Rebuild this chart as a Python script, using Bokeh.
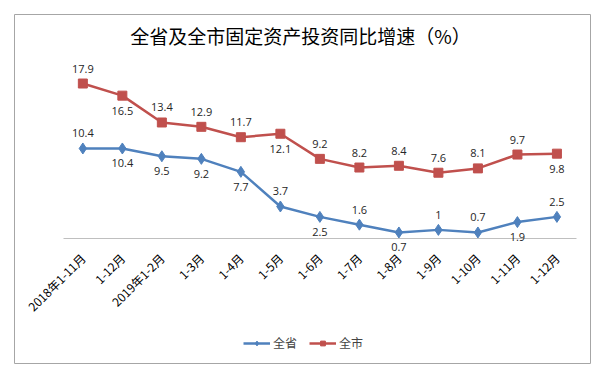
import math
from bokeh.plotting import figure
from bokeh.models import (ColumnDataSource, Range1d, LabelSet, Label, Legend, LegendItem,
                          FixedTicker)
from bokeh.core.properties import value
from bokeh.embed import file_html
from bokeh.resources import INLINE

# ---- data ----
categories = ["2018年1-11月", "1-12月", "2019年1-2月", "1-3月", "1-4月", "1-5月", "1-6月",
              "1-7月", "1-8月", "1-9月", "1-10月", "1-11月", "1-12月"]
province = [10.4, 10.4, 9.5, 9.2, 7.7, 3.7, 2.5, 1.6, 0.7, 1, 0.7, 1.9, 2.5]
city = [17.9, 16.5, 13.4, 12.9, 11.7, 12.1, 9.2, 8.2, 8.4, 7.6, 8.1, 9.7, 9.8]
province_label_pos = ["up", "down", "down", "down", "down", "up", "down", "up", "down", "up", "up", "down", "up"]
city_label_pos = ["up", "down", "up", "up", "up", "down", "up", "up", "up", "up", "up", "up", "down"]
title_text = "全省及全市固定资产投资同比增速（%）"
series_names = ["全省", "全市"]

BLUE = "#4F81BD"
RED = "#C0504D"
OFF = {"up": 15, "down": -15}


def fmt(v):
    return ("%g" % v)


idx = list(range(len(categories)))

# the plot frame is the whole bordered chart area; the axis sits at y = 0 inside it
p = figure(x_range=Range1d(-1.73, 12.85), y_range=Range1d(-14.43, 25.87),
           width=596, height=366, output_backend="svg", toolbar_location=None,
           min_border_left=14, min_border_right=6, min_border_top=14, min_border_bottom=3)
p.outline_line_color = "#a6a6a6"
p.outline_line_width = 1
p.background_fill_color = "white"
p.border_fill_color = "white"
p.xgrid.visible = False
p.ygrid.visible = False
p.yaxis.visible = False

ax = p.xaxis[0]
ax.fixed_location = 0
ax.bounds = (-0.5, len(categories) - 0.5)
ax.ticker = FixedTicker(ticks=idx)
ax.major_label_overrides = {i: c for i, c in zip(idx, categories)}
ax.axis_line_color = "#bfbfbf"
ax.axis_line_width = 1
ax.major_tick_line_color = None
ax.minor_tick_line_color = None
ax.major_label_orientation = math.pi / 4
ax.major_label_text_font = "Noto Sans CJK SC"
ax.major_label_text_font_size = "12px"
ax.major_label_text_color = "#000000"
ax.major_label_standoff = 11

p.add_layout(Label(x=286, y=328, x_units="screen", y_units="screen", text=title_text,
                   text_align="center", text_baseline="middle",
                   text_font="Noto Sans CJK SC", text_font_size="19px", text_color="#000000"))

src_p = ColumnDataSource(dict(x=idx, y=province,
                              t=[fmt(v) for v in province],
                              dy=[OFF[s] for s in province_label_pos]))
src_c = ColumnDataSource(dict(x=idx, y=city,
                              t=[fmt(v) for v in city],
                              dy=[OFF[s] for s in city_label_pos]))

lp = p.line("x", "y", source=src_p, line_color=BLUE, line_width=2.5)
mp = p.scatter("x", "y", source=src_p, marker="diamond", size=11, fill_color=BLUE, line_color=BLUE)
lc = p.line("x", "y", source=src_c, line_color=RED, line_width=2.5)
mc = p.scatter("x", "y", source=src_c, marker="square", size=9, fill_color=RED, line_color=RED)

for src in (src_p, src_c):
    p.add_layout(LabelSet(x="x", y="y", text="t", y_offset="dy", source=src,
                          text_align="center", text_baseline="middle",
                          text_font=value("Open Sans"), text_font_size=value("11px"),
                          text_color="#262626"))

legend = Legend(items=[LegendItem(label=series_names[0], renderers=[lp, mp]),
                       LegendItem(label=series_names[1], renderers=[lc, mc])],
                orientation="horizontal", location=(229, 12),
                label_text_font="Noto Sans CJK SC", label_text_font_size="12px",
                label_standoff=3,
                glyph_width=27, glyph_height=12, spacing=12, padding=0,
                border_line_color=None, background_fill_alpha=0, margin=0)
p.add_layout(legend, "center")

open("out.html", "w").write(file_html(p, INLINE))
